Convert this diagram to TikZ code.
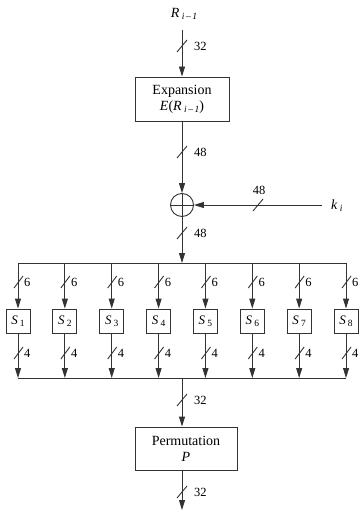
\documentclass[tikz,border=0pt]{standalone}
\usepackage{fontspec}
\setmainfont{Liberation Serif}
\usetikzlibrary{arrows.meta,calc}
\tikzset{
  ln/.style={draw=black!80, line width=0.9pt},
  arr/.style={ln, -{Triangle[length=10pt,width=6pt]}},
  bigbox/.style={draw=black!80, line width=0.9pt, minimum height=44pt, align=center, inner sep=0pt, font=\fontsize{14}{18}\selectfont},
  sbox/.style={draw=black!80, line width=0.9pt, minimum width=24pt, minimum height=24pt, inner sep=0pt, font=\fontsize{13}{13}\selectfont},
  num/.style={font=\fontsize{12.5}{12.5}\selectfont, inner sep=0pt, anchor=west},
  lab/.style={font=\fontsize{14}{14}\selectfont, inner sep=0pt},
  sl/.style={draw=black!80, line width=0.9pt},
}
\newcommand{\vslash}[3]{% x, y, label
  \draw[sl] (#1-5,#2+6) -- (#1+5,#2-6);
  \node[num] at (#1+12,#2) {#3};
}
\newcommand{\sub}[1]{\raisebox{-0.35ex}{\fontsize{9.5}{9.5}\selectfont #1}}
\begin{document}
\begin{tikzpicture}[x=1pt,y=-1pt]
\useasboundingbox (0,0) rectangle (358,518);
% input
\node[lab] (R) at (184,14) {\textit{R}\,\sub{\textit{i}\,–\,\textit{1}}};
\coordinate (top) at (182,30);
\node[bigbox, minimum width=94pt] (E) at (182,99) {Expansion\\[-2pt]\textit{E}(\textit{R}\,\sub{\textit{i}\,–\,\textit{1}})};
\draw[arr] (top) -- (E.north);
\vslash{182}{46}{32}
% xor
\node[circle, draw=black!80, line width=0.9pt, minimum size=23pt, inner sep=0pt] (X) at (182,205) {};
\draw[ln] (X.west) -- (X.east);
\draw[arr] (E.south) -- (X.north);
\vslash{182}{152}{48}
% key
\node[lab, anchor=west] (k) at (331,206) {\textit{k}\,\sub{\textit{i}}};
\coordinate (kstart) at (322,205);
\draw[arr] (kstart) -- (X.east);
\draw[sl] (253,211) -- (263,199);
\node[font=\fontsize{12.5}{12.5}\selectfont, inner sep=0pt] (k48) at (259,190) {48};
% top bus
\coordinate (busT) at (182,263);
\draw[arr] (X.north) -- (busT);
\vslash{182}{233}{48}
\coordinate (busTL) at (18,263);
\coordinate (busTR) at (346,263);
\draw[ln] (busTL) -- (busTR);
\coordinate (busBL) at (18,378);
\coordinate (busBR) at (346,378);
\draw[ln] (busBL) -- (busBR);
% S boxes
\foreach \i in {1,...,8} {
  \pgfmathsetmacro{\xx}{18+(\i-1)*46.86}
  \node[sbox] (S\i) at (\xx,321) {\textit{S}\,\sub{\i}};
  \coordinate (t\i) at (\xx,263);
  \coordinate (b\i) at (\xx,378);
  \draw[arr] (t\i) -- (S\i.north);
  \draw[arr] (S\i.south) -- (b\i);
  \draw[sl] (\xx-4,288) -- (\xx+5,276);
  \node[num] at (\xx+6,282) {6};
  \draw[sl] (\xx-4,359) -- (\xx+5,347);
  \node[num] at (\xx+6,353) {4};
}
% permutation
\coordinate (busB) at (182,378);
\node[bigbox, minimum width=102pt, minimum height=43pt] (P) at (186,448.5) {Permutation\\[-2pt]\textit{P}};
\draw[arr] (busB) -- (busB |- P.north);
\vslash{182}{400}{32}
\coordinate (out) at (182,510);
\draw[arr] (busB |- P.south) -- (out);
\vslash{182}{492}{32}
\end{tikzpicture}
\end{document}
